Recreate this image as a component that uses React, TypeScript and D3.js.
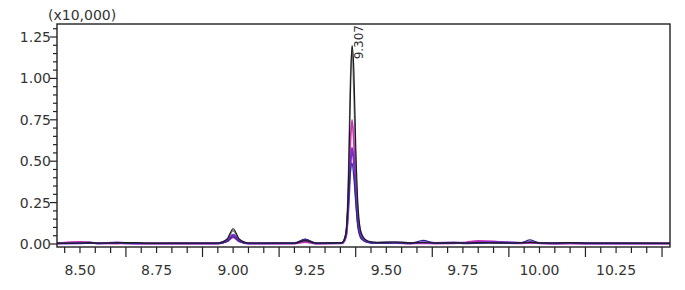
import React, { useEffect, useRef } from "react";
import * as d3 from "d3";

// retention times (min)
const times = [
  8.425, 8.5, 8.53, 8.56, 8.62, 8.65, 8.68, 8.72,
  8.95, 8.98, 9.0, 9.02, 9.05,
  9.2, 9.235, 9.27,
  9.355, 9.368, 9.376, 9.382, 9.388, 9.394, 9.4, 9.407, 9.415, 9.425, 9.44, 9.47,
  9.53, 9.58, 9.62, 9.66, 9.72, 9.76, 9.8, 9.85, 9.9, 9.94, 9.97, 10.0, 10.05, 10.1, 10.15, 10.43,
];

// intensities (x10,000)
const blackVals = [
  0.005, 0.006, 0.008, 0.006, 0.007, 0.008, 0.009, 0.005,
  0.006, 0.03, 0.092, 0.03, 0.006,
  0.006, 0.02, 0.006,
  0.008, 0.06, 0.35, 0.85, 1.2, 1.05, 0.6, 0.25, 0.09, 0.04, 0.018, 0.01,
  0.012, 0.007, 0.009, 0.006, 0.007, 0.006, 0.008, 0.007, 0.006, 0.008, 0.01, 0.007, 0.006, 0.008, 0.006, 0.005,
];
const grayVals = [
  0.004, 0.005, 0.006, 0.005, 0.006, 0.006, 0.007, 0.004,
  0.005, 0.025, 0.08, 0.025, 0.005,
  0.005, 0.018, 0.005,
  0.008, 0.07, 0.4, 0.95, 1.19, 0.9, 0.5, 0.2, 0.08, 0.035, 0.015, 0.008,
  0.01, 0.006, 0.008, 0.005, 0.006, 0.005, 0.007, 0.006, 0.005, 0.007, 0.009, 0.006, 0.005, 0.007, 0.005, 0.004,
];
const magentaVals = [
  0.003, 0.012, 0.01, 0.004, 0.003, 0.004, 0.003, 0.003,
  0.003, 0.015, 0.04, 0.015, 0.003,
  0.003, 0.012, 0.003,
  0.004, 0.04, 0.25, 0.58, 0.75, 0.62, 0.38, 0.15, 0.06, 0.03, 0.012, 0.006,
  0.006, 0.003, 0.004, 0.003, 0.004, 0.01, 0.018, 0.015, 0.006, 0.004, 0.006, 0.004, 0.003, 0.003, 0.003, 0.003,
];
const purpleVals = [
  0.004, 0.005, 0.008, 0.004, 0.008, 0.005, 0.004, 0.003,
  0.004, 0.02, 0.055, 0.02, 0.004,
  0.005, 0.025, 0.004,
  0.006, 0.05, 0.22, 0.45, 0.58, 0.5, 0.32, 0.14, 0.06, 0.03, 0.012, 0.006,
  0.008, 0.005, 0.01, 0.006, 0.008, 0.005, 0.008, 0.012, 0.01, 0.006, 0.012, 0.006, 0.004, 0.006, 0.004, 0.003,
];
const navyVals = [
  0.003, 0.003, 0.004, 0.003, 0.006, 0.004, 0.003, 0.003,
  0.003, 0.015, 0.045, 0.015, 0.003,
  0.004, 0.03, 0.003,
  0.005, 0.06, 0.25, 0.42, 0.49, 0.4, 0.25, 0.1, 0.04, 0.02, 0.01, 0.005,
  0.006, 0.004, 0.022, 0.005, 0.006, 0.004, 0.005, 0.006, 0.005, 0.008, 0.025, 0.006, 0.004, 0.008, 0.004, 0.003,
];

// drawn in this order, black last so the baseline reads dark
const seriesList = [
  { name: "gray", values: grayVals, color: "#7a7a7a", width: 1.3 },
  { name: "magenta", values: magentaVals, color: "#c832b4", width: 1.8 },
  { name: "purple", values: purpleVals, color: "#7a2ec8", width: 2.2 },
  { name: "navy", values: navyVals, color: "#2a2a8e", width: 1.2 },
  { name: "black", values: blackVals, color: "#1c1c1c", width: 1.2 },
];

const yTickLabels = ["0.00", "0.25", "0.50", "0.75", "1.00", "1.25"];
const xTickLabels = ["8.50", "8.75", "9.00", "9.25", "9.50", "9.75", "10.00", "10.25"];
const peakLabel = "9.307";
const peakTime = 9.388;
const unitLabel = "(x10,000)";

const App = () => {
  const svgRef = useRef<SVGSVGElement>(null);

  useEffect(() => {
    const width = 685;
    const height = 290;
    const left = 57, right = 670, top = 24, bottom = 247;

    const svg = d3.select(svgRef.current).attr("width", width).attr("height", height);
    svg.selectAll("*").remove();

    const x = d3.scaleLinear().domain([8.425, 10.426]).range([left, right]);
    const y = d3.scaleLinear().domain([0, 1.25]).range([244, 37]);

    const font = "'DejaVu Sans', sans-serif";
    const ink = "#222";

    // clip to plot frame
    svg.append("clipPath").attr("id", "plotclip")
      .append("rect").attr("x", left).attr("y", top).attr("width", right - left).attr("height", bottom - top);

    // traces
    const line = d3.line<number>()
      .x((_, i) => x(times[i]))
      .y((d) => y(d))
      .curve(d3.curveMonotoneX);

    const g = svg.append("g").attr("clip-path", "url(#plotclip)");
    seriesList.forEach((s) => {
      g.append("path")
        .datum(s.values)
        .attr("d", line)
        .attr("fill", "none")
        .attr("stroke", s.color)
        .attr("stroke-width", s.width)
        .attr("stroke-linejoin", "round");
    });

    // frame
    svg.append("rect")
      .attr("x", left).attr("y", top)
      .attr("width", right - left).attr("height", bottom - top)
      .attr("fill", "none").attr("stroke", ink).attr("stroke-width", 1.4);

    // y axis ticks
    const yMinor = d3.range(0, 27).map((i) => i * 0.05);
    svg.append("g").selectAll("line").data(yMinor).enter().append("line")
      .attr("x1", (d, i) => (i % 5 === 0 ? left - 7 : left - 4))
      .attr("x2", left)
      .attr("y1", (d) => y(d)).attr("y2", (d) => y(d))
      .attr("stroke", ink).attr("stroke-width", 1.2);

    svg.append("g").selectAll("text").data(yTickLabels).enter().append("text")
      .attr("x", left - 6)
      .attr("y", (d) => y(+d) + 5)
      .attr("text-anchor", "end")
      .attr("font-family", font).attr("font-size", 14).attr("fill", "#333")
      .text((d) => d);

    // x axis ticks
    const xMinor = d3.range(0, 40).map((i) => 8.45 + i * 0.05);
    svg.append("g").selectAll("line").data(xMinor).enter().append("line")
      .attr("x1", (d) => x(d)).attr("x2", (d) => x(d))
      .attr("y1", bottom)
      .attr("y2", (d, i) => ((i + 1) % 5 === 0 ? bottom + 10 : bottom + 6))
      .attr("stroke", ink).attr("stroke-width", 1.2);

    svg.append("g").selectAll("text").data(xTickLabels).enter().append("text")
      .attr("x", (d) => x(+d))
      .attr("y", 275)
      .attr("text-anchor", "middle")
      .attr("font-family", font).attr("font-size", 14).attr("fill", "#333")
      .text((d) => d);

    // unit label
    svg.append("text")
      .attr("x", 48).attr("y", 20)
      .attr("font-family", font).attr("font-size", 14).attr("fill", "#333")
      .text(unitLabel);

    // peak label
    const px = x(peakTime) + 11;
    svg.append("text")
      .attr("transform", `translate(${px},${top + 1}) rotate(-90)`)
      .attr("text-anchor", "end")
      .attr("font-family", font).attr("font-size", 12).attr("fill", "#333")
      .text(peakLabel);
  }, []);

  return (
    <div style={{ position: "fixed", left: 0, top: 0, background: "#fff" }}>
      <svg ref={svgRef} style={{ display: "block" }}></svg>
    </div>
  );
};

export default App;
